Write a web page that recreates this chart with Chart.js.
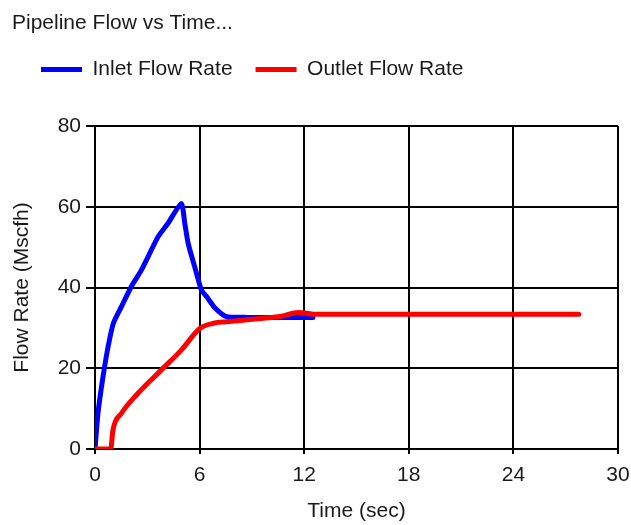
<!DOCTYPE html>
<html>
<head>
<meta charset="utf-8">
<title>Pipeline Flow vs Time</title>
<script src="https://cdn.jsdelivr.net/npm/chart.js@4/dist/chart.umd.min.js"></script>
<style>
  html, body { margin: 0; padding: 0; background: #fff; }
  #wrap { width: 631px; height: 525px; }
</style>
</head>
<body>
<div id="wrap"><canvas id="c" width="631" height="525"></canvas></div>
<script>
// Inlet flow (Mscfh) sampled against time (sec)
const inletTime = [0, 0.17, 0.46, 0.75, 1.05, 1.51, 2.08, 2.66, 3.62, 4.19, 4.95, 5.15, 5.34, 5.72, 6.1, 6.41, 6.87, 7.54, 8.7, 9.66, 11.2, 12.5];
const inletFlow = [0, 8.8, 17.9, 25.3, 31.1, 35.2, 40.2, 44.3, 52.6, 55.9, 60.8, 55.9, 51, 45.1, 39.4, 37.7, 35, 32.8, 32.6, 32.6, 32.6, 32.6];

// Outlet flow (Mscfh) sampled against time (sec)
const outletTime = [0, 0.9, 1.03, 1.51, 2.47, 3.81, 4.95, 6.03, 6.87, 7.54, 8.71, 9.66, 10.62, 11.67, 12.53, 27.75];
const outletFlow = [0, 0, 4.7, 8.8, 13.8, 19.6, 24.5, 29.9, 31.2, 31.5, 32, 32.4, 32.8, 33.8, 33.4, 33.4];

const seriesNames = ['Inlet Flow Rate', 'Outlet Flow Rate'];
const seriesColors = ['#0000ff', '#ff0000'];
const xTicks = [0, 6, 12, 18, 24, 30];
const yTicks = [0, 20, 40, 60, 80];

const FONT = "'Liberation Sans', Arial, sans-serif";
const FONT_SIZE = 21;
const TEXT = '#1a1a1a';

const toPoints = (xs, ys) => xs.map((x, i) => ({ x: x, y: ys[i] }));

// title and legend sit at the top of the canvas, the legend row indented a little
const headerPlacement = {
  id: 'headerPlacement',
  afterLayout(chart) {
    const lift = 36;
    if (chart.titleBlock) { chart.titleBlock.top -= lift; chart.titleBlock.bottom -= lift; }
    if (chart.legend) {
      chart.legend.top -= lift; chart.legend.bottom -= lift;
      chart.legend.left += 6;
    }
  }
};

new Chart(document.getElementById('c'), {
  type: 'line',
  data: {
    datasets: [
      {
        label: seriesNames[0],
        data: toPoints(inletTime, inletFlow),
        borderColor: seriesColors[0],
        backgroundColor: seriesColors[0],
        borderWidth: 5,
        tension: 0.2,
        order: 1
      },
      {
        label: seriesNames[1],
        data: toPoints(outletTime, outletFlow),
        borderColor: seriesColors[1],
        backgroundColor: seriesColors[1],
        borderWidth: 5,
        cubicInterpolationMode: 'monotone',
        order: 0
      }
    ]
  },
  plugins: [headerPlacement],
  options: {
    responsive: false,
    animation: false,
    events: [],
    layout: { padding: { left: 12, right: 0, top: 0, bottom: 0 } },
    elements: {
      point: { radius: 0 },
      line: { borderCapStyle: 'round', borderJoinStyle: 'round', fill: false }
    },
    plugins: {
      title: {
        display: true,
        text: 'Pipeline Flow vs Time...',
        align: 'start',
        color: TEXT,
        font: { family: FONT, size: FONT_SIZE, weight: 'normal', lineHeight: 1.2 },
        padding: { top: 10, bottom: 0 }
      },
      legend: {
        display: true,
        align: 'start',
        labels: {
          color: TEXT,
          font: { family: FONT, size: FONT_SIZE, lineHeight: 1.2 },
          boxWidth: 41,
          boxHeight: 5,
          padding: 23,
          sort: (a, b) => a.datasetIndex - b.datasetIndex,
          generateLabels: (chart) => chart.data.datasets.map((ds, i) => ({
            text: ds.label,
            fillStyle: ds.borderColor,
            strokeStyle: ds.borderColor,
            lineWidth: 0,
            hidden: false,
            datasetIndex: i,
            fontColor: TEXT
          }))
        }
      },
      tooltip: { enabled: false }
    },
    scales: {
      x: {
        type: 'linear',
        min: 0,
        max: 30,
        afterBuildTicks: (s) => { s.ticks = xTicks.map(v => ({ value: v })); },
        afterFit: (s) => { s.height = 76; s.paddingRight = 13; },
        border: { color: '#000', width: 2 },
        grid: { color: '#000', lineWidth: 2, tickLength: 5, drawTicks: true },
        ticks: {
          color: TEXT,
          padding: 9,
          maxRotation: 0,
          font: { family: FONT, size: FONT_SIZE, lineHeight: 1.2 }
        },
        title: {
          display: true,
          text: 'Time (sec)',
          color: TEXT,
          font: { family: FONT, size: FONT_SIZE, lineHeight: 1.2 },
          padding: { top: 0, bottom: 1 }
        }
      },
      y: {
        type: 'linear',
        min: 0,
        max: 80,
        afterBuildTicks: (s) => { s.ticks = yTicks.map(v => ({ value: v })); },
        afterFit: (s) => { s.width = 83; s.paddingTop = 126; },
        border: { color: '#000', width: 2 },
        grid: { color: '#000', lineWidth: 2, tickLength: 9, drawTicks: true },
        ticks: {
          color: TEXT,
          padding: 5,
          font: { family: FONT, size: FONT_SIZE, lineHeight: 1.2 }
        },
        title: {
          display: true,
          text: 'Flow Rate (Mscfh)',
          color: TEXT,
          font: { family: FONT, size: FONT_SIZE, lineHeight: 1 },
          padding: { top: 0, bottom: 0 }
        }
      }
    }
  }
});
</script>
</body>
</html>
